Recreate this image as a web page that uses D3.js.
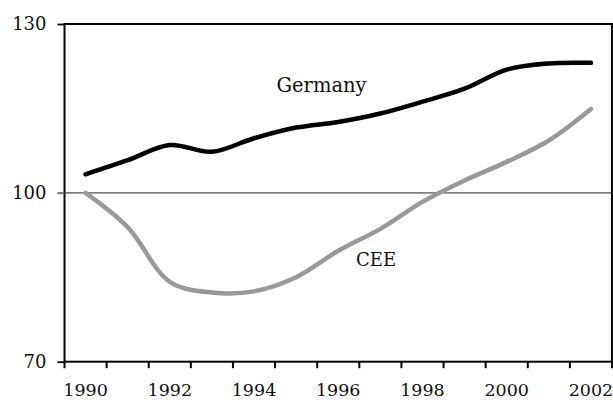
<!DOCTYPE html>
<html>
<head>
<meta charset="utf-8">
<script src="https://cdnjs.cloudflare.com/ajax/libs/d3/7.8.5/d3.min.js"></script>
<style>
  body { margin: 0; background: #fff; }
  svg text { font-family: "DejaVu Serif", serif; fill: #111; }
</style>
</head>
<body>
<div id="chart"></div>
<script>
const years = [1990, 1991, 1992, 1993, 1994, 1995, 1996, 1997, 1998, 1999, 2000, 2001, 2002];
const germany = [103.3, 105.8, 108.5, 107.3, 109.7, 111.6, 112.6, 114.1, 116.2, 118.5, 121.9, 123.0, 123.1];
const cee = [100.0, 93.9, 84.2, 82.3, 82.5, 85.0, 89.7, 93.6, 98.4, 102.2, 105.5, 109.3, 114.9];
const yTicks = [70, 100, 130];
const xLabels = [1990, 1992, 1994, 1996, 1998, 2000, 2002];

const W = 613, H = 400;
const mLeft = 64.5, mRight = 612, mTop = 24, mBottom = 361.7;

const svg = d3.select("#chart").append("svg")
    .attr("width", W)
    .attr("height", H);

const x = d3.scaleBand().domain(years).range([mLeft, mRight]).padding(0);
const y = d3.scaleLinear().domain([70, 130]).range([mBottom, mTop]);
const cx = d => x(d) + x.bandwidth() / 2;

// reference line at 100
svg.append("line")
    .attr("x1", mLeft - 7).attr("x2", mRight)
    .attr("y1", y(100)).attr("y2", y(100))
    .attr("stroke", "#808080")
    .attr("stroke-width", 1.6);

// lines
const line = d3.line()
    .x((d, i) => cx(years[i]))
    .y(d => y(d))
    .curve(d3.curveCatmullRom.alpha(0.5));

svg.append("path")
    .datum(cee)
    .attr("d", line)
    .attr("fill", "none")
    .attr("stroke", "#999999")
    .attr("stroke-width", 4.5)
    .attr("stroke-linecap", "round");

svg.append("path")
    .datum(germany)
    .attr("d", line)
    .attr("fill", "none")
    .attr("stroke", "#000")
    .attr("stroke-width", 4.5)
    .attr("stroke-linecap", "round");

// frame
svg.append("rect")
    .attr("x", mLeft).attr("y", mTop)
    .attr("width", mRight - mLeft).attr("height", mBottom - mTop)
    .attr("fill", "none")
    .attr("stroke", "#000")
    .attr("stroke-width", 2);

// y axis ticks + labels
const yAxis = svg.append("g")
    .attr("transform", "translate(" + mLeft + ",0)")
    .call(d3.axisLeft(y).tickValues(yTicks).tickSize(7).tickPadding(11));
yAxis.select(".domain").remove();
yAxis.selectAll(".tick line")
    .attr("stroke", d => d === 100 ? "#808080" : "#000")
    .attr("stroke-width", 1.8);
yAxis.selectAll(".tick text")
    .attr("font-size", "18px")
    .attr("font-family", "DejaVu Serif")
    .attr("fill", "#111");

// x axis: ticks at category boundaries
const bounds = years.map(d => x(d)).concat([mRight]);
svg.append("g").selectAll("line")
    .data(bounds)
    .enter().append("line")
    .attr("x1", d => d).attr("x2", d => d)
    .attr("y1", mBottom).attr("y2", mBottom + 6.5)
    .attr("stroke", "#000")
    .attr("stroke-width", 2);

svg.append("g").selectAll("text")
    .data(xLabels)
    .enter().append("text")
    .attr("x", d => cx(d))
    .attr("y", 396)
    .attr("text-anchor", "middle")
    .attr("font-size", "17.5px")
    .text(d => d);

// series labels
svg.append("text")
    .attr("x", 276.5)
    .attr("y", 92)
    .attr("font-size", "19.5px")
    .text("Germany");

svg.append("text")
    .attr("x", 356)
    .attr("y", 266)
    .attr("font-size", "18px")
    .text("CEE");
</script>
</body>
</html>
